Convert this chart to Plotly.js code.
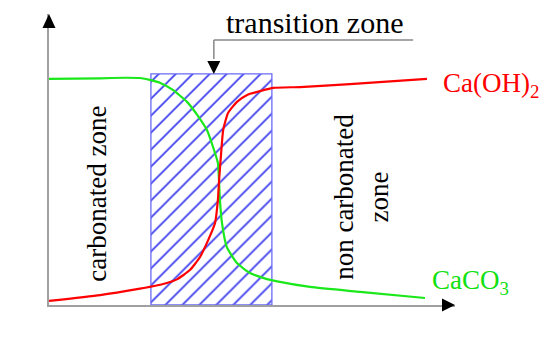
<!DOCTYPE html>
<html><head><meta charset="utf-8">
<script src="https://cdn.plot.ly/plotly-3.0.1.min.js"></script>
<style>
html,body{margin:0;padding:0;background:#fff}
#chart{width:550px;height:351px}
#chart svg text{font-family:"Liberation Serif","Times New Roman",Times,"DejaVu Serif",serif !important;}
</style>
</head><body><div id="chart"></div>
<script>
// CaCO3 profile (green)
const caco3Depth = [0, 12.6, 18.7, 22.4, 25.1, 27.3, 30.5, 34.0, 36.5, 38.9, 40.4, 41.6, 41.9, 42.1, 42.6, 43.8, 46.3, 49.5, 53.7, 56.2, 64.3, 76.6, 92.6];
const caco3Conc  = [77.7, 77.9, 78.1, 78.0, 77.3, 76.4, 73.9, 69.8, 65.3, 60.1, 54.3, 48.8, 41.9, 36.1, 28.2, 19.9, 14.4, 11.0, 8.9, 8.1, 6.2, 4.5, 2.4];
// Ca(OH)2 profile (red)
const caohDepth = [0, 12.6, 22.4, 25.1, 28.1, 31.5, 34.7, 37.2, 39.2, 40.9, 41.6, 41.9, 42.4, 42.9, 44.1, 46.3, 48.8, 52.0, 55.2, 61.8, 74.1, 93.1];
const caohConc  = [1.4, 3.4, 5.6, 6.3, 7.2, 8.8, 12.0, 16.5, 22.3, 28.2, 36.1, 43.0, 52.2, 60.1, 66.0, 69.8, 72.2, 73.5, 74.6, 74.9, 75.9, 77.7];
// transition zone extent
const zoneBounds = [25.1, 54.9];
const zoneHeight = [79.4];

const serif = '"Liberation Serif", "Times New Roman", Times, "DejaVu Serif", serif';
const FS = 27;
const FSL = 30;

const traces = [
  {
    type: 'bar',
    x: [(zoneBounds[0] + zoneBounds[1]) / 2],
    y: zoneHeight,
    width: [zoneBounds[1] - zoneBounds[0]],
    marker: {
      color: 'white',
      line: {color: '#6a6af5', width: 1.3},
      pattern: {shape: '/', fgcolor: '#3a3aee', bgcolor: 'white', size: 12, solidity: 0.14}
    },
    hoverinfo: 'skip'
  },
  {
    type: 'scatter', mode: 'lines',
    x: caco3Depth, y: caco3Conc,
    line: {color: '#1be81b', width: 2.2, shape: 'spline', smoothing: 0.5},
    hoverinfo: 'skip'
  },
  {
    type: 'scatter', mode: 'lines',
    x: caohDepth, y: caohConc,
    line: {color: '#ff0000', width: 2.2, shape: 'spline', smoothing: 0.5},
    hoverinfo: 'skip'
  }
];

const axisCommon = {
  range: [0, 100], fixedrange: true, showgrid: false, zeroline: false,
  showticklabels: false, ticks: '', showline: true, linecolor: '#a0a0a0', linewidth: 2
};

const layout = {
  width: 550, height: 351,
  margin: {l: 49, r: 95, t: 14, b: 46, pad: 0},
  paper_bgcolor: 'white', plot_bgcolor: 'white',
  showlegend: false, hovermode: false, bargap: 0,
  font: {family: serif, size: FS, color: '#000'},
  xaxis: Object.assign({}, axisCommon),
  yaxis: Object.assign({}, axisCommon),
  shapes: [
    {type: 'path', xref: 'paper', yref: 'paper', xsizemode: 'pixel', ysizemode: 'pixel',
     xanchor: 0, yanchor: 1, path: 'M-6.5,-14 L6.5,-14 L0,0 Z',
     fillcolor: '#000', line: {width: 0}},
    {type: 'path', xref: 'paper', yref: 'paper', xsizemode: 'pixel', ysizemode: 'pixel',
     xanchor: 1, yanchor: 0, path: 'M-13,-6.5 L-13,6.5 L0,0 Z',
     fillcolor: '#000', line: {width: 0}},
    {type: 'line', xref: 'x', yref: 'y', x0: 40.6, x1: 89.7, y0: 91.1, y1: 91.1,
     line: {color: '#888', width: 1.5}},
    {type: 'line', xref: 'x', yref: 'y', x0: 40.6, x1: 40.6, y0: 91.1, y1: 84.5,
     line: {color: '#888', width: 1.5}},
    {type: 'path', xref: 'x', yref: 'y', xsizemode: 'pixel', ysizemode: 'pixel',
     xanchor: 40.6, yanchor: zoneHeight[0], path: 'M-6.5,13 L6.5,13 L0,0 Z',
     fillcolor: '#000', line: {width: 0}}
  ],
  annotations: [
    {text: 'concentration', x: -5.9, y: 65.3, xref: 'x', yref: 'y', showarrow: false,
     textangle: -90, xanchor: 'center', yanchor: 'middle', font: {size: FSL, family: serif}},
    {text: 'depth', x: 88.9, y: -11.0, xref: 'x', yref: 'y', showarrow: false,
     xanchor: 'center', yanchor: 'middle', font: {size: FSL, family: serif}},
    {text: 'transition zone', x: 65.3, y: 97.0, xref: 'x', yref: 'y', showarrow: false,
     xanchor: 'center', yanchor: 'middle', font: {size: FSL, family: serif}},
    {text: 'carbonated zone', x: 11.6, y: 38.3, xref: 'x', yref: 'y', showarrow: false,
     textangle: -90, xanchor: 'center', yanchor: 'middle'},
    {text: 'non carbonated<br>zone', x: 76.8, y: 37.1, xref: 'x', yref: 'y', showarrow: false,
     textangle: -90, xanchor: 'center', yanchor: 'middle'},
    {text: 'Ca(OH)<sub>2</sub>', x: 96.6, y: 75.5, xref: 'x', yref: 'y', showarrow: false,
     xanchor: 'left', yanchor: 'middle', font: {color: '#ff0000', size: FS, family: serif}},
    {text: 'CaCO<sub>3</sub>', x: 93.8, y: 7.8, xref: 'x', yref: 'y', showarrow: false,
     xanchor: 'left', yanchor: 'middle', font: {color: '#11e011', size: FS, family: serif}}
  ]
};

Plotly.newPlot('chart', traces, layout, {displayModeBar: false, staticPlot: true});
</script></body></html>
